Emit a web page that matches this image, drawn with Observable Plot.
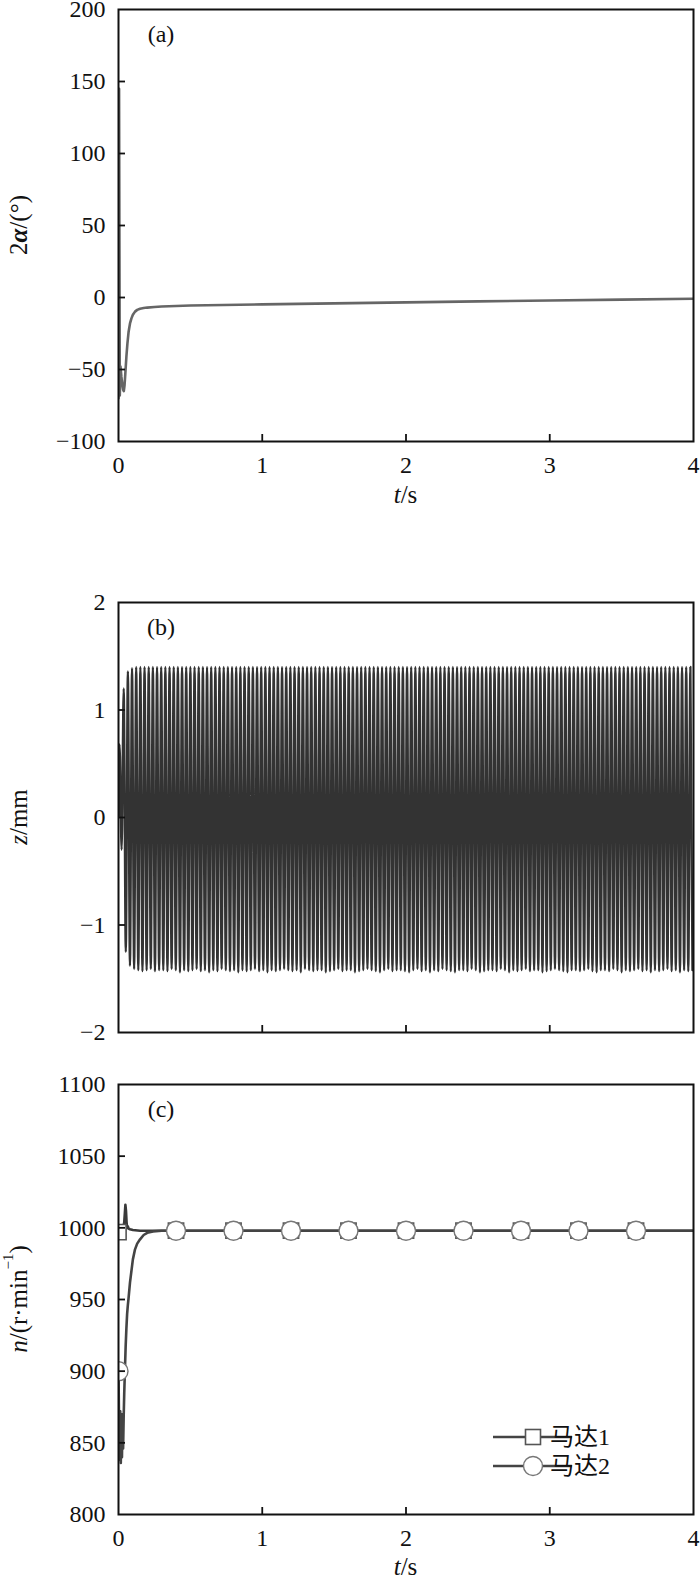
<!DOCTYPE html>
<html><head><meta charset="utf-8">
<script src="https://cdn.jsdelivr.net/npm/d3@7"></script>
<script src="https://cdn.jsdelivr.net/npm/@observablehq/plot@0.6"></script>
<style>
html,body{margin:0;padding:0;background:#fff;overflow:hidden;}
#wrap{position:relative;width:700px;height:1582px;background:#fff;}
#wrap svg{position:absolute;left:0;}
</style></head><body><div id="wrap"></div>
<script>
// ---------- data ----------
const xTicks = [0, 1, 2, 3, 4];
const xInner = [1, 2, 3];

// (a) 2α vs t
const aTicks = [-100, -50, 0, 50, 100, 150, 200];
const aInner = [-50, 0, 50, 100, 150];
const aT = [0, 0.004, 0.009, 0.014, 0.02, 0.026, 0.032, 0.037, 0.042, 0.048, 0.055, 0.062, 0.07, 0.08, 0.09, 0.1, 0.115, 0.13, 0.15, 0.175, 0.2, 0.25, 0.3, 0.5, 1, 1.5, 2, 2.5, 3, 3.5, 4];
const aV = [-70, 145, -68, -48, -55, -60, -64, -65, -61, -52, -41, -32, -24, -18, -14.5, -12, -9.8, -8.6, -7.8, -7.3, -7.0, -6.6, -6.3, -5.6, -4.8, -4.1, -3.4, -2.7, -2.1, -1.5, -0.9];

// (b) z vs t : successive peaks and troughs of the oscillation
const bTicks = [-2, -1, 0, 1, 2];
const bInner = [-1, 0, 1];
const zPeaks = [
 0.68,1.20,1.36,1.39,1.40,1.40,1.40,1.40,1.40,1.40,
 1.40,1.40,1.40,1.40,1.40,1.40,1.40,1.40,1.40,1.40,
 1.40,1.40,1.40,1.40,1.40,1.40,1.40,1.40,1.40,1.40,
 1.40,1.40,1.40,1.40,1.40,1.40,1.40,1.40,1.40,1.40,
 1.40,1.40,1.40,1.40,1.40,1.40,1.40,1.40,1.40,1.40,
 1.40,1.40,1.40,1.40,1.40,1.40,1.40,1.40,1.40,1.40,
 1.40,1.40,1.40,1.40,1.40,1.40,1.40,1.40,1.40,1.40,
 1.40,1.40,1.40,1.40,1.40,1.40,1.40,1.40,1.40,1.40,
 1.40,1.40,1.40,1.40,1.40,1.40,1.40,1.40,1.40,1.40,
 1.40,1.40,1.40,1.40,1.40,1.40,1.40,1.40,1.40,1.40,
 1.40,1.40,1.40,1.40,1.40,1.40,1.40,1.40,1.40,1.40,
 1.40,1.40,1.40,1.40,1.40,1.40,1.40,1.40,1.40,1.40,
 1.40,1.40,1.40,1.40,1.40,1.40,1.40,1.40,1.40,1.40,
 1.40,1.40,1.40,1.40,1.40,1.40,1.40,1.40
];
const zTroughs = [
 -0.30,-1.25,-1.38,-1.41,-1.42,-1.43,-1.42,-1.41,-1.43,-1.42,
 -1.42,-1.43,-1.41,-1.42,-1.44,-1.42,-1.43,-1.42,-1.41,-1.43,
 -1.42,-1.44,-1.42,-1.43,-1.41,-1.42,-1.43,-1.42,-1.44,-1.42,
 -1.43,-1.42,-1.41,-1.43,-1.42,-1.44,-1.42,-1.43,-1.42,-1.41,
 -1.42,-1.43,-1.42,-1.44,-1.41,-1.42,-1.43,-1.42,-1.42,-1.44,
 -1.43,-1.42,-1.41,-1.43,-1.42,-1.42,-1.44,-1.43,-1.42,-1.41,
 -1.42,-1.43,-1.44,-1.42,-1.41,-1.43,-1.42,-1.42,-1.43,-1.44,
 -1.42,-1.41,-1.43,-1.42,-1.44,-1.42,-1.43,-1.41,-1.42,-1.43,
 -1.44,-1.42,-1.42,-1.43,-1.41,-1.42,-1.44,-1.43,-1.42,-1.42,
 -1.43,-1.41,-1.42,-1.44,-1.42,-1.43,-1.42,-1.41,-1.43,-1.42,
 -1.42,-1.44,-1.43,-1.42,-1.41,-1.42,-1.43,-1.44,-1.42,-1.42,
 -1.43,-1.42,-1.41,-1.43,-1.44,-1.42,-1.42,-1.43,-1.41,-1.42,
 -1.44,-1.42,-1.43,-1.42,-1.41,-1.43,-1.42,-1.44,-1.42,-1.43,
 -1.42,-1.41,-1.43,-1.42,-1.44,-1.42,-1.43,-1.42
];

// (c) n vs t
const cTicks = [800, 850, 900, 950, 1000, 1050, 1100];
const cInner = [850, 900, 950, 1000, 1050];
const m1T = [0, 0.005, 0.01, 0.015, 0.02, 0.025, 0.03, 0.035, 0.04, 0.044, 0.048, 0.052, 0.056, 0.06, 0.065, 0.07, 0.08, 0.1, 0.15, 0.2, 0.3, 4];
const m1V = [997, 999, 1000, 999, 1000, 999, 1000, 1001, 1004, 1010, 1016, 1012, 1004, 1000, 1001, 999.5, 999, 998.5, 998, 998, 998, 998];
const m2T = [0, 0.004, 0.008, 0.012, 0.016, 0.02, 0.024, 0.028, 0.032, 0.036, 0.04, 0.045, 0.05, 0.055, 0.06, 0.065, 0.07, 0.08, 0.09, 0.1, 0.115, 0.13, 0.15, 0.175, 0.2, 0.24, 0.3, 0.4, 4];
const m2V = [900, 862, 838, 872, 836, 866, 840, 870, 846, 868, 885, 902, 918, 930, 940, 946, 951, 962, 970, 978, 985, 989, 992, 995, 996.5, 997.5, 998, 998, 998];
const markT = [0, 0.4, 0.8, 1.2, 1.6, 2.0, 2.4, 2.8, 3.2, 3.6];
const mark1V = [997, 998, 998, 998, 998, 998, 998, 998, 998, 998];
const mark2V = [900, 998, 998, 998, 998, 998, 998, 998, 998, 998];
const seriesNames = ["马达1", "马达2"];

// ---------- build tables ----------
const aData = aT.map((t, i) => ({t, v: aV[i]}));
const zPeriod = 4 / zPeaks.length;
const zData = [{t: 0, v: 0}];
zPeaks.forEach((p, i) => {
  zData.push({t: (i + 0.25) * zPeriod, v: p});
  zData.push({t: (i + 0.75) * zPeriod, v: zTroughs[i]});
});
const m1Data = m1T.map((t, i) => ({t, v: m1V[i]}));
const m2Data = m2T.map((t, i) => ({t, v: m2V[i]}));
const mk1 = markT.map((t, i) => ({t, v: mark1V[i]}));
const mk2 = markT.map((t, i) => ({t, v: mark2V[i]}));

// ---------- drawing ----------
const FONT = '"Liberation Serif", "Times New Roman", serif';
const INK = "#111";
const W = 700, ML = 118, MR = 7;
const FS = 24;
const fmt = d => (d < 0 ? "\u2212" + Math.abs(d) : String(d));
const wrap = document.getElementById("wrap");

function panel(o) {
  const plotH = o.frameBottom - o.frameTop;
  const plotW = W - ML - MR;
  const mTop = o.frameTop - o.svgTop;
  const mBottom = o.svgHeight - mTop - plotH;
  const marks = [
    ...o.marks,
    Plot.tickY(o.yInner, {y: d => d, insetRight: plotW - 7, stroke: INK, strokeWidth: 1.8}),
    Plot.tickX(xInner, {x: d => d, insetTop: plotH - 7, stroke: INK, strokeWidth: 1.8}),
    Plot.frame({stroke: INK, strokeWidth: 2}),
    Plot.axisY({ticks: o.yTicks, tickSize: 0, tickPadding: 13, tickFormat: fmt, fontSize: FS, fontFamily: FONT, fill: INK, label: null})
  ];
  if (o.showX) marks.push(Plot.axisX({ticks: xTicks, tickSize: 0, tickPadding: 14, tickFormat: fmt, fontSize: FS, fontFamily: FONT, fill: INK, label: null}));
  const svg = Plot.plot({
    width: W, height: o.svgHeight,
    marginLeft: ML, marginRight: MR, marginTop: mTop, marginBottom: mBottom,
    style: {fontFamily: FONT, fontSize: FS + "px", background: "transparent", color: INK, overflow: "visible"},
    x: {domain: [0, 4], axis: o.showX ? undefined : null},
    y: {domain: o.yDomain, axis: null},
    marks
  });
  svg.style.top = o.svgTop + "px";
  svg.setAttribute("font-family", FONT);
  const s = d3.select(svg);
  s.selectAll("text").attr("font-family", FONT).style("font-family", FONT);
  // y label
  s.append("text")
    .attr("transform", `translate(18,${mTop + plotH / 2}) rotate(-90)`)
    .attr("text-anchor", "middle").attr("dominant-baseline", "central")
    .style("font-family", FONT).attr("font-size", 25).attr("fill", INK)
    .html(o.yLabel);
  // panel tag
  s.append("text")
    .attr("x", 161).attr("y", mTop + 25)
    .attr("text-anchor", "middle").attr("dominant-baseline", "central")
    .style("font-family", FONT).attr("font-size", 24).attr("fill", INK)
    .text(o.tag);
  if (o.xLabelY != null) {
    s.append("text")
      .attr("x", ML + plotW / 2).attr("y", o.xLabelY - o.svgTop)
      .attr("text-anchor", "middle").attr("dominant-baseline", "central")
      .style("font-family", FONT).attr("font-size", 25).attr("fill", INK)
      .html('<tspan font-style="italic">t</tspan>/s');
  }
  wrap.appendChild(svg);
  return s;
}

panel({
  svgTop: 0, svgHeight: 560, frameTop: 9, frameBottom: 441,
  yDomain: [-100, 200], yTicks: aTicks, yInner: aInner, showX: true, xLabelY: 494,
  tag: "(a)",
  yLabel: '2<tspan font-style="italic" font-weight="bold">α</tspan>/(°)',
  marks: [
    Plot.line(aData, {x: "t", y: "v", stroke: "#666", strokeWidth: 2.6, clip: true})
  ]
});

panel({
  svgTop: 560, svgHeight: 510, frameTop: 602, frameBottom: 1032,
  yDomain: [-2, 2], yTicks: bTicks, yInner: bInner, showX: false, xLabelY: null,
  tag: "(b)",
  yLabel: '<tspan font-style="italic">z</tspan>/mm',
  marks: [
    Plot.line(zData, {x: "t", y: "v", stroke: "#333", strokeWidth: 2.3, curve: "monotone-x", clip: true})
  ]
});

const c = panel({
  svgTop: 1070, svgHeight: 512, frameTop: 1084, frameBottom: 1514,
  yDomain: [800, 1100], yTicks: cTicks, yInner: cInner, showX: true, xLabelY: 1566,
  tag: "(c)",
  yLabel: '<tspan font-style="italic">n</tspan>/(r·min<tspan dy="-10" font-size="15">−1</tspan><tspan dy="10">)</tspan>',
  marks: [
    Plot.line(m1Data, {x: "t", y: "v", stroke: "#3a3a3a", strokeWidth: 2.6, clip: true}),
    Plot.line(m2Data, {x: "t", y: "v", stroke: "#444", strokeWidth: 2.6, clip: true}),
    Plot.dot(mk1, {x: "t", y: "v", symbol: "square", r: 8.6, fill: "white", stroke: "#555", strokeWidth: 1.6, clip: true}),
    Plot.dot(mk2, {x: "t", y: "v", symbol: "circle", r: 9.5, fill: "white", stroke: "#777", strokeWidth: 1.4, clip: true})
  ]
});

// legend (inside panel c)
const legRows = [367, 396];
const g = c.append("g");
seriesNames.forEach((name, i) => {
  const y = legRows[i];
  g.append("line").attr("x1", 493).attr("x2", 572).attr("y1", y).attr("y2", y)
    .attr("stroke", "#444").attr("stroke-width", 2.6);
  if (i === 0) {
    g.append("rect").attr("x", 533 - 7.5).attr("y", y - 7.5).attr("width", 15).attr("height", 15)
      .attr("fill", "white").attr("stroke", "#555").attr("stroke-width", 1.6);
  } else {
    g.append("circle").attr("cx", 533).attr("cy", y).attr("r", 9.5)
      .attr("fill", "white").attr("stroke", "#777").attr("stroke-width", 1.4);
  }
  g.append("text").attr("x", 580).attr("y", y).attr("dominant-baseline", "central")
    .style("font-family", '"Liberation Serif", "Noto Sans CJK SC", serif').attr("font-size", 24)
    .attr("fill", INK).text(name);
});
</script></body></html>
